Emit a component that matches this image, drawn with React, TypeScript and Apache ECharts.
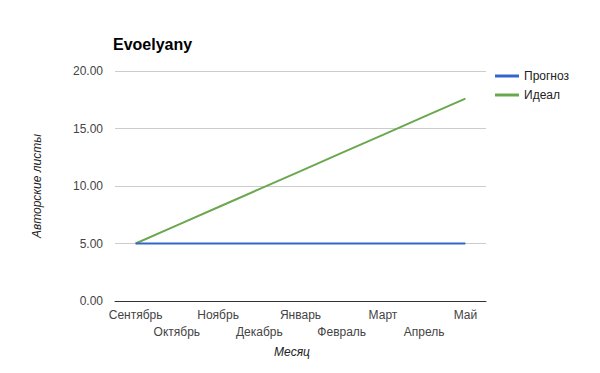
import React, { useEffect, useRef } from "react";
import * as echarts from "echarts";

const categories = ["Сентябрь", "Октябрь", "Ноябрь", "Декабрь", "Январь", "Февраль", "Март", "Апрель", "Май"];
const forecast = [5, 5, 5, 5, 5, 5, 5, 5, 5];
const ideal = [5, 6.58, 8.15, 9.73, 11.3, 12.88, 14.45, 16.03, 17.6];
const titleText = "Evoelyany";
const seriesNames = ["Прогноз", "Идеал"];
const xTitle = "Месяц";
const yTitle = "Авторские листы";

export default function App() {
  const ref = useRef<HTMLDivElement>(null);
  useEffect(() => {
    if (!ref.current) return;
    const chart = echarts.init(ref.current, null, { renderer: "svg" });
    const font = "Arial, 'Liberation Sans', sans-serif";
    chart.setOption({
      animation: false,
      backgroundColor: "#fff",
      textStyle: { fontFamily: font },
      title: {
        text: titleText,
        left: 108,
        top: 31,
        textStyle: { fontSize: 16, fontWeight: "bold", color: "#000", fontFamily: font },
      },
      legend: {
        orient: "vertical",
        left: 490,
        top: 65,
        itemWidth: 24,
        itemHeight: 3,
        itemGap: 7,
        icon: "rect",
        data: seriesNames,
        textStyle: { fontSize: 12, color: "#222", fontFamily: font },
      },
      grid: { left: 115, top: 71, width: 371, height: 230, containLabel: false },
      xAxis: {
        type: "category",
        data: categories,
        boundaryGap: true,
        axisLine: { lineStyle: { color: "#333", width: 1 } },
        axisTick: { show: false },
        axisLabel: {
          interval: 0,
          fontSize: 12,
          color: "#444",
          lineHeight: 17,
          margin: 5,
          fontFamily: font,
          formatter: (v: string, i: number) => (i % 2 ? "\n" + v : v),
        },
      },
      yAxis: {
        type: "value",
        min: 0,
        max: 20,
        interval: 5,
        name: yTitle,
        nameLocation: "middle",
        nameGap: 72,
        nameTextStyle: { fontSize: 12, fontStyle: "italic", color: "#222", fontFamily: font },
        axisLine: { show: false },
        axisTick: { show: false },
        splitLine: { lineStyle: { color: "#ccc", width: 1 } },
        axisLabel: {
          fontSize: 12,
          color: "#444",
          margin: 12,
          fontFamily: font,
          formatter: (v: number) => v.toFixed(2),
        },
      },
      graphic: [
        {
          type: "text",
          x: 292,
          y: 352,
          style: {
            text: xTitle,
            fontSize: 12,
            fontStyle: "italic",
            fill: "#222",
            fontFamily: font,
            align: "center",
            verticalAlign: "middle",
          },
        },
      ],
      series: [
        {
          name: seriesNames[0],
          type: "line",
          data: forecast,
          showSymbol: false,
          symbol: "none",
          lineStyle: { width: 2, color: "#3366cc" },
          itemStyle: { color: "#3366cc" },
          z: 3,
        },
        {
          name: seriesNames[1],
          type: "line",
          data: ideal,
          showSymbol: false,
          symbol: "none",
          lineStyle: { width: 2, color: "#6aa84f" },
          itemStyle: { color: "#6aa84f" },
          z: 2,
        },
      ],
    });
    return () => chart.dispose();
  }, []);
  return <div ref={ref} style={{ width: 600, height: 373, margin: -8 }} />;
}
